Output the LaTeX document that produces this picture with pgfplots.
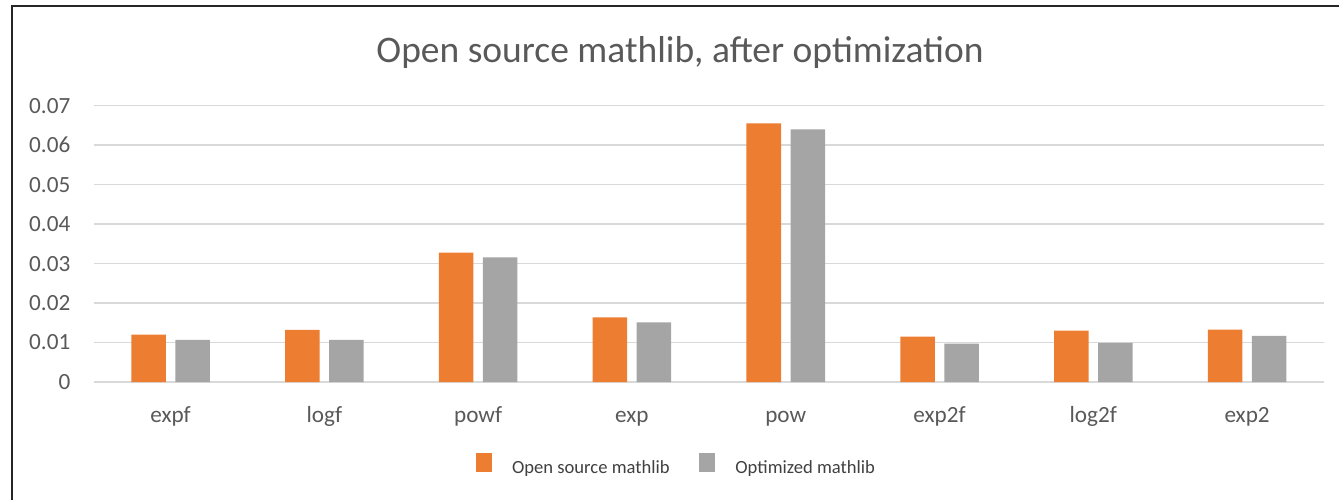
\documentclass[border=0pt]{standalone}
\usepackage{pgfplots}
\pgfplotsset{compat=1.18}
\usepackage{fontspec}
\setmainfont{Carlito}
\definecolor{orangeb}{HTML}{ED7D31}
\definecolor{grayb}{HTML}{A5A5A5}
\definecolor{tc}{HTML}{595959}
\definecolor{lc}{HTML}{404040}
\definecolor{gridc}{HTML}{D9D9D9}
\definecolor{framec}{HTML}{262626}
\begin{document}
\begin{tikzpicture}
\path[use as bounding box] (0pt,0pt) rectangle (669.5pt,250pt);
\draw[framec, line width=1pt] (6pt,0pt) -- (6pt,247pt) -- (669.5pt,247pt);
\begin{axis}[
  at={(46.85pt,59pt)}, anchor=south west,
  scale only axis,
  width=615.15pt, height=138.15pt,
  xmin=-0.5, xmax=7.5, ymin=0, ymax=0.07,
  enlargelimits=false,
  scaled y ticks=false,
  ybar, bar width=17.25pt,
  xtick={0,1,2,3,4,5,6,7},
  xticklabels={expf,logf,powf,exp,pow,exp2f,log2f,exp2},
  ytick={0,0.01,0.02,0.03,0.04,0.05,0.06,0.07},
  yticklabels={0,0.01,0.02,0.03,0.04,0.05,0.06,0.07},
  /pgf/number format/assume math mode=true,
  axis line style={draw=none},
  tick style={draw=none},
  major tick length=0pt,
  ymajorgrids,
  major grid style={line width=0.75pt, color=gridc},
  tick label style={font=\fontsize{11.6}{13}\selectfont, text=tc},
  yticklabel style={anchor=east, inner sep=0pt, xshift=-11.5pt},
  xticklabel style={anchor=base, inner sep=0pt, yshift=-20pt},
  title={Open source mathlib, after optimization},
  title style={at={(axis description cs:0.4766,1.1147)}, anchor=base, inner sep=0pt,
    font=\fontsize{18.75}{22}\selectfont, text=tc},
  legend columns=2,
  legend image code/.code={\fill[#1] (0pt,-1.6pt) rectangle (8pt,7.7pt);},
  legend style={draw=none, fill=none, at={(axis description cs:0.4729,-0.3004)}, anchor=center,
    inner sep=0pt, font=\fontsize{9.3}{11}\selectfont, text=lc,
    nodes={inner sep=0pt},
    /tikz/every odd column/.append style={column sep=10pt},
    /tikz/every even column/.append style={column sep=14.85pt}},
]
\addplot[fill=orangeb, draw=none, bar shift=-11pt] coordinates {
  (0,0.0120) (1,0.0132) (2,0.0328) (3,0.0164) (4,0.0655) (5,0.0115) (6,0.0130) (7,0.0133)};
\addlegendentry{Open source mathlib}
\addplot[fill=grayb, draw=none, bar shift=11pt] coordinates {
  (0,0.0107) (1,0.0107) (2,0.0316) (3,0.0151) (4,0.0640) (5,0.0097) (6,0.0099) (7,0.0117)};
\addlegendentry{Optimized mathlib}
\end{axis}
\end{tikzpicture}
\end{document}
